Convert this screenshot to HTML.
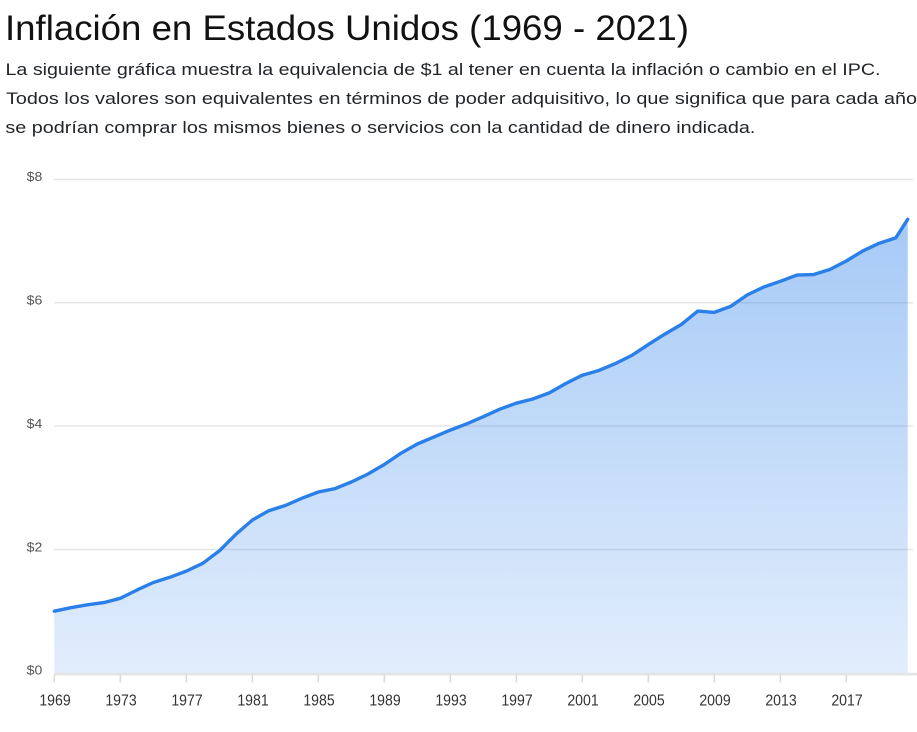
<!DOCTYPE html>
<html>
<head>
<meta charset="utf-8">
<style>
  html, body { margin:0; padding:0; background:#ffffff; }
  body { width:917px; height:732px; overflow:hidden; }
  svg { display:block; }
  .t { font-family:"Liberation Sans", Arial, sans-serif; fill:#212529; }
  .xl { font-family:"Liberation Sans", Arial, sans-serif; font-size:16px; fill:#333333; }
  .yl { font-family:"Liberation Sans", Arial, sans-serif; font-size:12.5px; fill:#555555; }
</style>
</head>
<body>
<svg width="917" height="732" viewBox="0 0 917 732" xmlns="http://www.w3.org/2000/svg">
  <defs>
    <linearGradient id="g" x1="0" y1="219" x2="0" y2="673" gradientUnits="userSpaceOnUse">
      <stop offset="0" stop-color="#2b80ea" stop-opacity="0.42"/>
      <stop offset="1" stop-color="#2b80ea" stop-opacity="0.14"/>
    </linearGradient>
  </defs>

  <!-- Title & description -->
  <text class="t" x="5" y="40" font-size="35" textLength="684" lengthAdjust="spacingAndGlyphs" style="fill:#111">Inflación en Estados Unidos (1969 - 2021)</text>
  <text class="t" x="5.5" y="75" font-size="17" textLength="875" lengthAdjust="spacingAndGlyphs">La siguiente gráfica muestra la equivalencia de $1 al tener en cuenta la inflación o cambio en el IPC.</text>
  <text class="t" x="6" y="104" font-size="17" textLength="911" lengthAdjust="spacingAndGlyphs">Todos los valores son equivalentes en términos de poder adquisitivo, lo que significa que para cada año</text>
  <text class="t" x="5.4" y="133" font-size="17" textLength="750" lengthAdjust="spacingAndGlyphs">se podrían comprar los mismos bienes o servicios con la cantidad de dinero indicada.</text>

  <!-- Grid lines -->
  <g stroke="#e6e6e6" stroke-width="1.5">
    <line x1="54" y1="179.5" x2="913" y2="179.5"/>
    <line x1="54" y1="302.8" x2="913" y2="302.8"/>
    <line x1="54" y1="426" x2="913" y2="426"/>
    <line x1="54" y1="549.5" x2="913" y2="549.5"/>
  </g>

  <!-- Area -->
  <path fill="url(#g)" d="M54.3 673 L54.3 611.2 L70.8 607.7 L87.3 604.8 L103.8 602.6 L120.3 598.3 L136.8 590.1 L153.3 582.5 L169.8 577.3 L186.3 571.1 L202.8 563.3 L219.3 550.9 L235.8 534.4 L252.3 520.1 L268.8 510.7 L285.3 505.5 L301.8 498.3 L318.3 492.0 L334.8 488.7 L351.3 482.0 L367.8 474.1 L384.3 464.5 L400.8 453.3 L417.3 444.0 L433.8 437.1 L450.3 430.1 L466.8 423.8 L483.3 416.7 L499.8 409.2 L516.3 403.2 L532.8 399.0 L549.3 392.9 L565.8 383.5 L582.3 375.2 L598.8 370.5 L615.3 363.6 L631.8 355.4 L648.3 344.6 L664.8 334.1 L681.3 324.5 L697.8 311.1 L714.3 312.4 L730.8 306.3 L747.3 294.9 L763.8 287.0 L780.3 281.3 L796.8 275.1 L813.3 274.6 L829.8 269.5 L846.3 261.0 L862.8 250.9 L879.3 243.2 L895.8 237.9 L907.7 219.3 L907.7 673 Z"/>

  <!-- Line -->
  <path fill="none" stroke="#2a80e8" stroke-width="3.4" stroke-linejoin="round" stroke-linecap="round" d="M54.3 611.2 L70.8 607.7 L87.3 604.8 L103.8 602.6 L120.3 598.3 L136.8 590.1 L153.3 582.5 L169.8 577.3 L186.3 571.1 L202.8 563.3 L219.3 550.9 L235.8 534.4 L252.3 520.1 L268.8 510.7 L285.3 505.5 L301.8 498.3 L318.3 492.0 L334.8 488.7 L351.3 482.0 L367.8 474.1 L384.3 464.5 L400.8 453.3 L417.3 444.0 L433.8 437.1 L450.3 430.1 L466.8 423.8 L483.3 416.7 L499.8 409.2 L516.3 403.2 L532.8 399.0 L549.3 392.9 L565.8 383.5 L582.3 375.2 L598.8 370.5 L615.3 363.6 L631.8 355.4 L648.3 344.6 L664.8 334.1 L681.3 324.5 L697.8 311.1 L714.3 312.4 L730.8 306.3 L747.3 294.9 L763.8 287.0 L780.3 281.3 L796.8 275.1 L813.3 274.6 L829.8 269.5 L846.3 261.0 L862.8 250.9 L879.3 243.2 L895.8 237.9 L907.7 219.3"/>

  <!-- X axis line -->
  <line x1="54" y1="674.1" x2="917" y2="674.1" stroke="#e4e4e4" stroke-width="2.8"/>

  <!-- X ticks -->
  <g stroke="#d8d8d8" stroke-width="1.5">
    <line x1="54.3" y1="675" x2="54.3" y2="682.5"/>
    <line x1="120.3" y1="675" x2="120.3" y2="682.5"/>
    <line x1="186.3" y1="675" x2="186.3" y2="682.5"/>
    <line x1="252.3" y1="675" x2="252.3" y2="682.5"/>
    <line x1="318.3" y1="675" x2="318.3" y2="682.5"/>
    <line x1="384.3" y1="675" x2="384.3" y2="682.5"/>
    <line x1="450.3" y1="675" x2="450.3" y2="682.5"/>
    <line x1="516.3" y1="675" x2="516.3" y2="682.5"/>
    <line x1="582.3" y1="675" x2="582.3" y2="682.5"/>
    <line x1="648.3" y1="675" x2="648.3" y2="682.5"/>
    <line x1="714.3" y1="675" x2="714.3" y2="682.5"/>
    <line x1="780.3" y1="675" x2="780.3" y2="682.5"/>
    <line x1="846.3" y1="675" x2="846.3" y2="682.5"/>
  </g>

  <!-- X labels -->
  <g class="xl" text-anchor="middle">
    <text x="55" y="705.5" textLength="31.3" lengthAdjust="spacingAndGlyphs">1969</text>
    <text x="121" y="705.5" textLength="31.3" lengthAdjust="spacingAndGlyphs">1973</text>
    <text x="187" y="705.5" textLength="31.3" lengthAdjust="spacingAndGlyphs">1977</text>
    <text x="253" y="705.5" textLength="31.3" lengthAdjust="spacingAndGlyphs">1981</text>
    <text x="319" y="705.5" textLength="31.3" lengthAdjust="spacingAndGlyphs">1985</text>
    <text x="385" y="705.5" textLength="31.3" lengthAdjust="spacingAndGlyphs">1989</text>
    <text x="451" y="705.5" textLength="31.3" lengthAdjust="spacingAndGlyphs">1993</text>
    <text x="517" y="705.5" textLength="31.3" lengthAdjust="spacingAndGlyphs">1997</text>
    <text x="583" y="705.5" textLength="31.3" lengthAdjust="spacingAndGlyphs">2001</text>
    <text x="649" y="705.5" textLength="31.3" lengthAdjust="spacingAndGlyphs">2005</text>
    <text x="715" y="705.5" textLength="31.3" lengthAdjust="spacingAndGlyphs">2009</text>
    <text x="781" y="705.5" textLength="31.3" lengthAdjust="spacingAndGlyphs">2013</text>
    <text x="847" y="705.5" textLength="31.3" lengthAdjust="spacingAndGlyphs">2017</text>
  </g>

  <!-- Y labels -->
  <g class="yl" text-anchor="end">
    <text x="42.3" y="181.2" textLength="15.6" lengthAdjust="spacingAndGlyphs">$8</text>
    <text x="42.3" y="304.6" textLength="15.6" lengthAdjust="spacingAndGlyphs">$6</text>
    <text x="42.3" y="428" textLength="15.6" lengthAdjust="spacingAndGlyphs">$4</text>
    <text x="42.3" y="551.5" textLength="15.6" lengthAdjust="spacingAndGlyphs">$2</text>
    <text x="42.3" y="674.5" textLength="15.6" lengthAdjust="spacingAndGlyphs">$0</text>
  </g>
</svg>
</body>
</html>
